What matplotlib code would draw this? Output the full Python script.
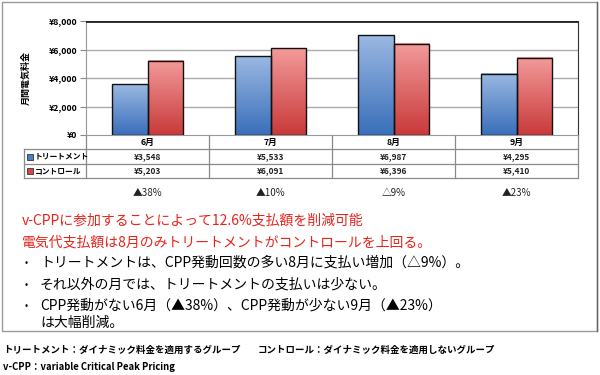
import matplotlib.pyplot as plt
import numpy as np
from matplotlib.patches import Rectangle
from matplotlib.colors import LinearSegmentedColormap

plt.rcParams['font.family'] = ['Noto Sans CJK JP', 'DejaVu Sans']

months = ['6月', '7月', '8月', '9月']
treatment = [3548, 5533, 6987, 4295]
control = [5203, 6091, 6396, 5410]
diff_labels = ['▲38%', '▲10%', '△9%', '▲23%']
series_names = ['トリートメント', 'コントロール']
yticks = [0, 2000, 4000, 6000, 8000]
ylabel = '月間電気料金'

red_lines = ['v-CPPに参加することによって12.6%支払額を削減可能',
             '電気代支払額は8月のみトリートメントがコントロールを上回る。']
bullets = ['トリートメントは、CPP発動回数の多い8月に支払い増加（△9%）。',
           'それ以外の月では、トリートメントの支払いは少ない。',
           'CPP発動がない6月（▲38%）、CPP発動が少ない9月（▲23%）\nは大幅削減。']
footer1 = 'トリートメント：ダイナミック料金を適用するグループ'
footer2 = 'コントロール：ダイナミック料金を適用しないグループ'
footer3 = 'v-CPP：variable Critical Peak Pricing'

blue_map = LinearSegmentedColormap.from_list('b', ['#9AB8E2', '#3A6FBA'])
red_map = LinearSegmentedColormap.from_list('r', ['#F39A9A', '#C93A3A'])

fig = plt.figure(figsize=(6, 3.75), dpi=100)

# overlay in pixel coords for frame, table and notes
ov = fig.add_axes([0, 0, 1, 1])
ov.set_xlim(0, 600)
ov.set_ylim(375, 0)
ov.axis('off')

ov.add_patch(Rectangle((1.5, 1.5), 595, 329, fill=False, edgecolor='#9A9A9A', lw=1))
ov.plot([597, 597], [2, 331], color='#666666', lw=1)

# main chart
ax = fig.add_axes([86 / 600, 1 - 135 / 375, 492 / 600, 114 / 375])
ax.set_facecolor('none')
w = 0.285
grad = np.linspace(0, 1, 100).reshape(-1, 1)
for i in range(len(months)):
    for x0, h, cm in [(i - w, treatment[i], blue_map), (i, control[i], red_map)]:
        ax.imshow(grad, extent=(x0, x0 + w, 0, h), cmap=cm, aspect='auto', zorder=2)
        ax.add_patch(Rectangle((x0, 0), w, h, fill=False, edgecolor='#111111', lw=1, zorder=3))

ax.set_xlim(-0.5, 3.5)
ax.set_ylim(0, 8000)
for y in yticks[1:-1]:
    ax.axhline(y, color='#AAAAAA', lw=1, zorder=1)
ax.axhline(8000, color='#222222', lw=2, zorder=4)
ax.set_yticks(yticks)
ax.set_yticklabels(['¥{:,}'.format(v) for v in yticks], fontsize=6.3, fontweight='bold')
ax.set_xticks([])
ax.tick_params(axis='y', length=4, color='#888888', pad=2)
for s in ['left', 'bottom']:
    ax.spines[s].set_color('#999999')
ax.spines['right'].set_color('#333333')
ax.spines['top'].set_visible(False)
ax.set_ylabel(ylabel, fontsize=6.5, fontweight='bold', labelpad=13)

# data table
left, right, col = 86, 578, 123
ys = [135, 149, 164, 178]
lc = '#8A8A8A'
for y in ys[1:]:
    ov.plot([24, right], [y, y], color=lc, lw=0.9)
ov.plot([24, 24], [149, 178], color=lc, lw=0.9)
for k in range(5):
    ov.plot([left + col * k] * 2, [135, 178], color=lc, lw=0.9)

cols = ['#4A7FC8', '#D84646']
for r, (name, vals) in enumerate(zip(series_names, [treatment, control])):
    yc = (ys[r + 1] + ys[r + 2]) / 2
    ov.add_patch(Rectangle((27, yc - 3), 6, 6, facecolor=cols[r], edgecolor='#333333', lw=0.6))
    ov.text(35, yc, name, fontsize=5.6, fontweight='bold', va='center', ha='left')
    for i, v in enumerate(vals):
        ov.text(left + col * (i + 0.5), yc, '¥{:,}'.format(v), fontsize=6, fontweight='bold',
                ha='center', va='center', color='#222222')
for i, m in enumerate(months):
    ov.text(left + col * (i + 0.5), 142, m, fontsize=6.3, fontweight='bold', ha='center', va='center')
    ov.text(left + col * (i + 0.5), 193, diff_labels[i], fontsize=7, ha='center', va='center',
            color='#222222')

# notes
ov.text(22, 220, red_lines[0], fontsize=10, color='#E8231B', va='center')
ov.text(22, 242, red_lines[1], fontsize=10, color='#E8231B', va='center')
lines = [bullets[0], bullets[1]] + bullets[2].split('\n')
for y, t in zip([263, 285, 306, 323], lines):
    ov.text(40, y, t, fontsize=10, va='center')
for y in [263, 285, 306]:
    ov.text(25, y, '•', fontsize=7, va='center')

ov.text(3, 350, footer1, fontsize=6.8, fontweight='bold', va='center')
ov.text(258, 350, footer2, fontsize=6.8, fontweight='bold', va='center')
ov.text(3, 367, footer3, fontsize=6.8, fontweight='bold', va='center')

fig.savefig('out.png', dpi=100)
